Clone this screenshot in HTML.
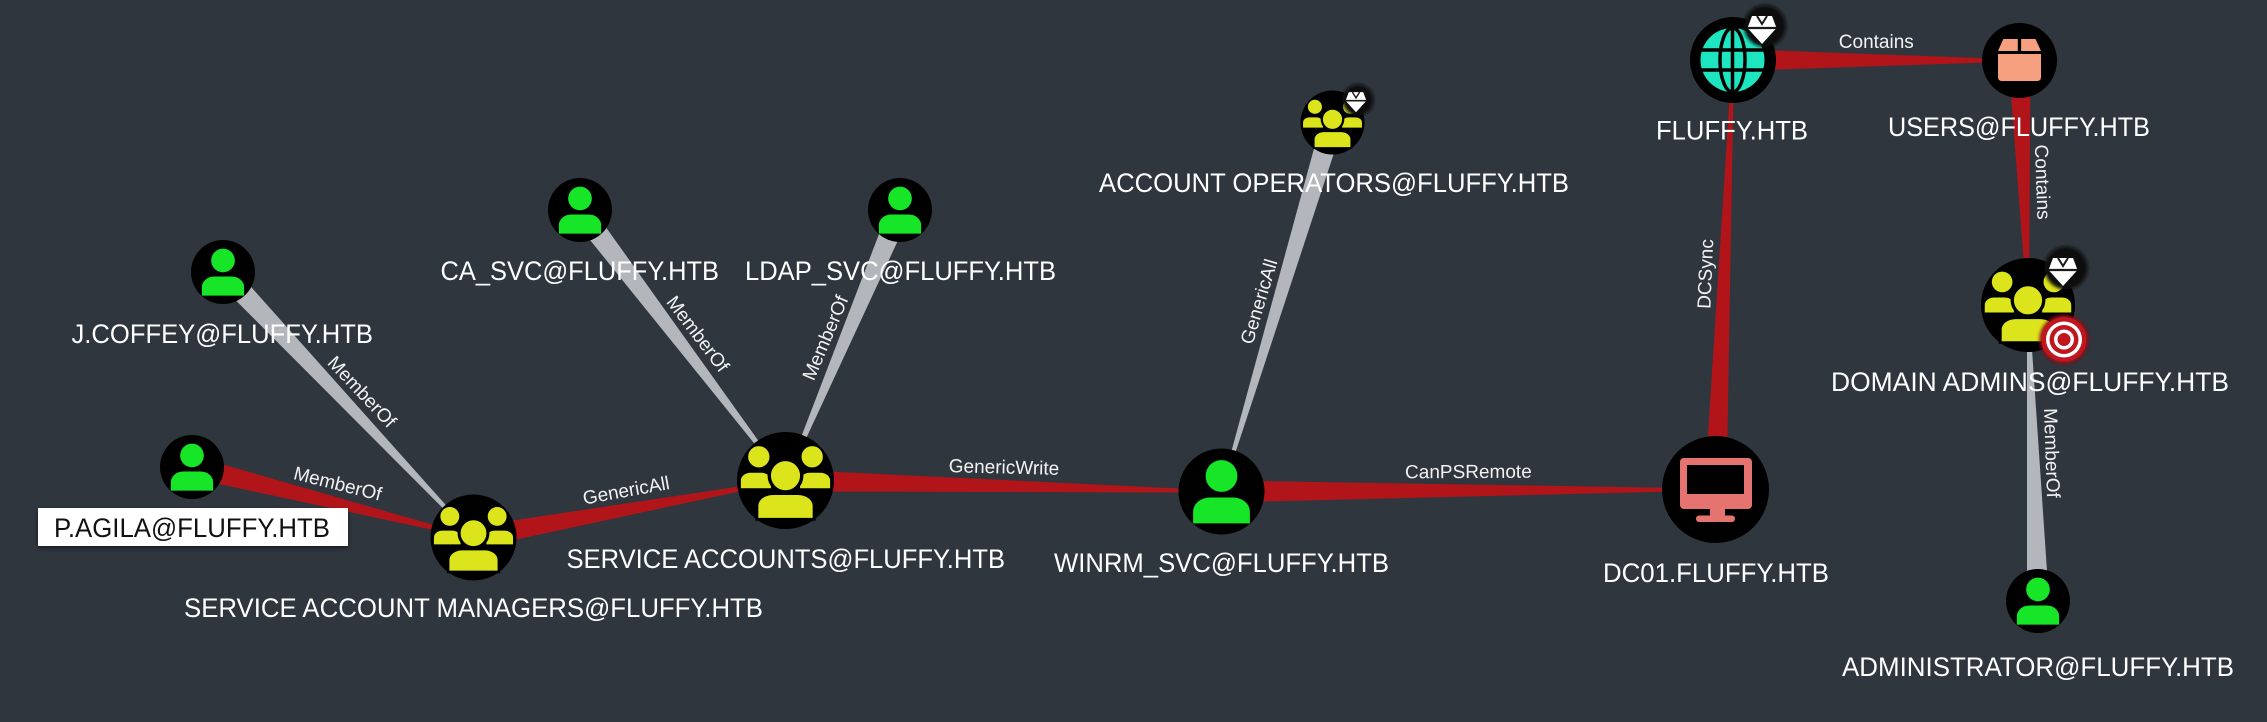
<!DOCTYPE html>
<html>
<head>
<meta charset="utf-8">
<style>
html,body{margin:0;padding:0;background:#2f363e;}
svg{display:block;}
.nl{font-family:"Liberation Sans",Arial,sans-serif;font-size:27px;fill:#ffffff;}
.el{font-family:"Liberation Sans",Arial,sans-serif;font-size:19px;fill:#f2f2f2;}
</style>
</head>
<body>
<svg width="2267" height="722" viewBox="0 0 2267 722" xmlns="http://www.w3.org/2000/svg">
<defs>
  <filter id="blur" x="-50%" y="-50%" width="200%" height="200%">
    <feGaussianBlur stdDeviation="1.6"/>
  </filter>
  <filter id="shadow" x="-10%" y="-30%" width="120%" height="160%">
    <feDropShadow dx="0" dy="2" stdDeviation="2" flood-color="#000" flood-opacity="0.5"/>
  </filter>
  <g id="usr">
    <circle r="1" fill="#000"/>
    <circle cy="-0.36" r="0.37" fill="#17e628"/>
    <path d="M-0.66 0.74 L-0.66 0.47 A0.39 0.33 0 0 1 -0.27 0.14 L0.27 0.14 A0.39 0.33 0 0 1 0.66 0.47 L0.66 0.74 Z" fill="#17e628"/>
  </g>
  <g id="grp">
    <circle r="1" fill="#000"/>
    <circle cx="-0.55" cy="-0.49" r="0.22" fill="#dce41c"/>
    <circle cx="0.55" cy="-0.49" r="0.22" fill="#dce41c"/>
    <path d="M0.30 0.16 L0.30 0.0 A0.2 0.16 0 0 1 0.50 -0.16 L0.72 -0.16 A0.2 0.16 0 0 1 0.92 0.0 L0.92 0.16 Z" fill="#dce41c"/>
    <path d="M-0.92 0.16 L-0.92 0.0 A0.2 0.16 0 0 1 -0.72 -0.16 L-0.50 -0.16 A0.2 0.16 0 0 1 -0.30 0.0 L-0.30 0.16 Z" fill="#dce41c"/>
    <circle cy="-0.1" r="0.335" fill="#dce41c" stroke="#000" stroke-width="0.07"/>
    <path d="M-0.56 0.77 L-0.56 0.52 A0.3 0.22 0 0 1 -0.26 0.3 L0.26 0.3 A0.3 0.22 0 0 1 0.56 0.52 L0.56 0.77 Z" fill="#dce41c" stroke="#000" stroke-width="0.12" paint-order="stroke"/>
  </g>
  <g id="gem">
    <polygon points="-10,-11 10,-11 14.5,1 0,17 -14.5,1" fill="#ffffff"/>
    <polyline points="-5,-11 0,-3 5,-11" fill="none" stroke="#1a1a1a" stroke-width="2"/>
    <line x1="-14.5" y1="1" x2="14.5" y2="1" stroke="#1a1a1a" stroke-width="2.2"/>
  </g>
</defs>

<rect x="0" y="0" width="2267" height="722" fill="#2f363e"/>

<!-- EDGES -->
<polygon points="189.3,477.7 473.3,538.5 473.7,536.5 194.7,456.3" fill="#b1151a"/>
<polygon points="215.0,279.5 472.8,538.2 474.2,536.8 231.0,264.5" fill="#b3b7bb"/>
<polygon points="571.2,216.7 784.7,481.1 786.3,479.9 588.8,203.3" fill="#b3b7bb"/>
<polygon points="889.9,205.7 784.6,480.1 786.4,480.9 910.1,214.3" fill="#b3b7bb"/>
<polygon points="475.5,548.3 785.7,481.5 785.3,479.5 471.5,526.7" fill="#b1151a"/>
<polygon points="785.2,491.5 1221.5,492.5 1221.5,490.5 785.8,469.5" fill="#b1151a"/>
<polygon points="1322.0,119.3 1220.5,491.2 1222.5,491.8 1343.0,125.7" fill="#b3b7bb"/>
<polygon points="1221.5,502.5 1715.5,490.5 1715.5,488.5 1221.5,480.5" fill="#b1151a"/>
<polygon points="1726.5,489.9 1734,60 1732,60 1704.5,489.1" fill="#b1151a"/>
<polygon points="1733,71 2019.5,61.5 2019.5,59.5 1733,49" fill="#b1151a"/>
<polygon points="2008.5,60.9 2027,305 2029,305 2030.5,60.1" fill="#b1151a"/>
<polygon points="2049,600.6 2029,305 2027,305 2027,601.4" fill="#b3b7bb"/>

<!-- EDGE LABELS -->
<text class="el" x="337.5" y="484.5" text-anchor="middle" dominant-baseline="central" transform="rotate(14.06 337.5 484.5)">MemberOf</text>
<text class="el" x="361.3" y="392.4" text-anchor="middle" dominant-baseline="central" transform="rotate(46.67 361.3 392.4)">MemberOf</text>
<text class="el" x="697.1" y="334.4" text-anchor="middle" dominant-baseline="central" transform="rotate(52.78 697.1 334.4)">MemberOf</text>
<text class="el" x="826.2" y="338.2" text-anchor="middle" dominant-baseline="central" transform="rotate(-67.06 826.2 338.2)">MemberOf</text>
<text class="el" x="626.3" y="491.3" text-anchor="middle" dominant-baseline="central" transform="rotate(-10.35 626.3 491.3)">GenericAll</text>
<text class="el" x="1004" y="468" text-anchor="middle" dominant-baseline="central" transform="rotate(1.45 1004 468)">GenericWrite</text>
<text class="el" x="1259.8" y="301.8" text-anchor="middle" dominant-baseline="central" transform="rotate(-73.26 1259.8 301.8)">GenericAll</text>
<text class="el" x="1468.4" y="472.5" text-anchor="middle" dominant-baseline="central" transform="rotate(-0.23 1468.4 472.5)">CanPSRemote</text>
<text class="el" x="1706.3" y="274" text-anchor="middle" dominant-baseline="central" transform="rotate(-87.67 1706.3 274)">DCSync</text>
<text class="el" x="1876.3" y="42.3" text-anchor="middle" dominant-baseline="central">Contains</text>
<text class="el" x="2041.7" y="182.1" text-anchor="middle" dominant-baseline="central" transform="rotate(88 2041.7 182.1)">Contains</text>
<text class="el" x="2051" y="453" text-anchor="middle" dominant-baseline="central" transform="rotate(88.07 2051 453)">MemberOf</text>

<!-- NODES: users -->
<use href="#usr" transform="translate(223,272) scale(32)"/>
<use href="#usr" transform="translate(192,467) scale(32)"/>
<use href="#usr" transform="translate(580,210) scale(32)"/>
<use href="#usr" transform="translate(900,210) scale(32)"/>
<use href="#usr" transform="translate(1221.5,491.5) scale(43)"/>
<use href="#usr" transform="translate(2038,601) scale(32)"/>

<!-- NODES: groups -->
<use href="#grp" transform="translate(473.5,537.5) scale(43)"/>
<use href="#grp" transform="translate(785.5,480.5) scale(48.5)"/>
<use href="#grp" transform="translate(1332.5,122.5) scale(32)"/>
<use href="#grp" transform="translate(2028,305) scale(47)"/>

<!-- FLUFFY.HTB domain (globe) -->
<circle cx="1733" cy="60" r="43" fill="#000"/>
<circle cx="1732.5" cy="60" r="32" fill="#1de5bf"/>
<g stroke="#000" stroke-width="3.5" fill="none">
  <ellipse cx="1732.5" cy="60" rx="12.5" ry="32"/>
  <line x1="1732.5" y1="28" x2="1732.5" y2="92"/>
  <line x1="1699" y1="50" x2="1766" y2="50"/>
  <line x1="1699" y1="70" x2="1766" y2="70"/>
</g>

<!-- USERS container (box) -->
<circle cx="2019.5" cy="60.5" r="37.5" fill="#000"/>
<polygon points="2003.3,39 2035.5,39 2041,51 1998,51" fill="#f7a07f"/>
<rect x="2017.8" y="38" width="3.3" height="14" fill="#000"/>
<path d="M1998 54 L2041 54 L2041 77 Q2041 81 2037 81 L2002 81 Q1998 81 1998 77 Z" fill="#f7a07f"/>

<!-- DC01 computer -->
<circle cx="1715.5" cy="489.5" r="53.5" fill="#000"/>
<rect x="1680" y="458" width="72" height="51" rx="4" fill="#e5736f"/>
<rect x="1687" y="465" width="57" height="29" fill="#000"/>
<rect x="1710" y="507" width="15" height="10" fill="#e5736f"/>
<rect x="1696" y="515.5" width="39" height="6.5" rx="3.2" fill="#e5736f"/>

<!-- Badges -->
<circle cx="1765" cy="26" r="21" fill="#0b0b0b" filter="url(#blur)"/>
<use href="#gem" transform="translate(1762,27)"/>

<circle cx="2066" cy="268" r="21.5" fill="#0b0b0b" filter="url(#blur)"/>
<use href="#gem" transform="translate(2063,269)"/>

<circle cx="1358" cy="100" r="15.5" fill="#0b0b0b" filter="url(#blur)"/>
<use href="#gem" transform="translate(1356,100) scale(0.72)"/>

<!-- Target badge -->
<circle cx="2064" cy="339.5" r="24.5" fill="#8e0e14" filter="url(#blur)"/>
<circle cx="2064" cy="339.5" r="22.5" fill="#c0161e"/>
<circle cx="2064" cy="339.5" r="18" fill="#ffffff"/>
<circle cx="2064" cy="339.5" r="14.5" fill="#c0161e"/>
<circle cx="2064" cy="339.5" r="10" fill="#ffffff"/>
<circle cx="2064" cy="339.5" r="6.5" fill="#c0161e"/>

<!-- NODE LABELS -->
<text class="nl" x="71.5" y="343" textLength="301.5" lengthAdjust="spacingAndGlyphs">J.COFFEY@FLUFFY.HTB</text>
<text class="nl" x="440.5" y="280" textLength="278.5" lengthAdjust="spacingAndGlyphs">CA_SVC@FLUFFY.HTB</text>
<text class="nl" x="745" y="280" textLength="311" lengthAdjust="spacingAndGlyphs">LDAP_SVC@FLUFFY.HTB</text>
<text class="nl" x="184" y="617" textLength="579" lengthAdjust="spacingAndGlyphs">SERVICE ACCOUNT MANAGERS@FLUFFY.HTB</text>
<text class="nl" x="566.5" y="568" textLength="438.5" lengthAdjust="spacingAndGlyphs">SERVICE ACCOUNTS@FLUFFY.HTB</text>
<text class="nl" x="1099" y="192" textLength="470" lengthAdjust="spacingAndGlyphs">ACCOUNT OPERATORS@FLUFFY.HTB</text>
<text class="nl" x="1054" y="572" textLength="335" lengthAdjust="spacingAndGlyphs">WINRM_SVC@FLUFFY.HTB</text>
<text class="nl" x="1656" y="139.5" textLength="152" lengthAdjust="spacingAndGlyphs">FLUFFY.HTB</text>
<text class="nl" x="1888" y="136" textLength="262" lengthAdjust="spacingAndGlyphs">USERS@FLUFFY.HTB</text>
<text class="nl" x="1831" y="391" textLength="398" lengthAdjust="spacingAndGlyphs">DOMAIN ADMINS@FLUFFY.HTB</text>
<text class="nl" x="1603" y="582" textLength="226" lengthAdjust="spacingAndGlyphs">DC01.FLUFFY.HTB</text>
<text class="nl" x="1842" y="676" textLength="392" lengthAdjust="spacingAndGlyphs">ADMINISTRATOR@FLUFFY.HTB</text>

<!-- P.AGILA highlighted label -->
<rect x="38" y="508" width="310" height="38" fill="#ffffff" filter="url(#shadow)"/>
<text class="nl" x="54" y="537" textLength="276" lengthAdjust="spacingAndGlyphs" style="fill:#111111">P.AGILA@FLUFFY.HTB</text>
</svg>
</body>
</html>
